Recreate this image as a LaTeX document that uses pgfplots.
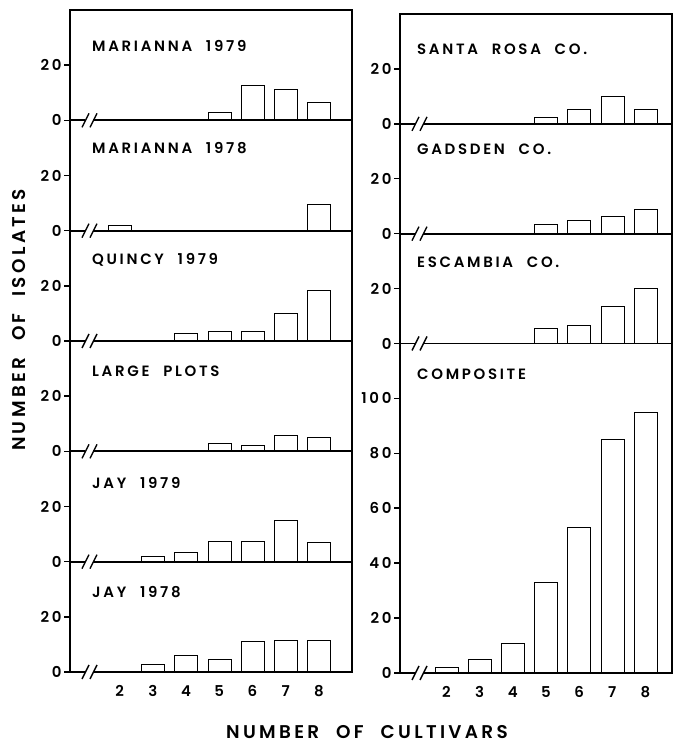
\documentclass[border=0pt]{standalone}
\usepackage{fontspec}
\setmainfont{Poppins}[LetterSpace=18, WordSpace=2.2, BoldFont={Poppins SemiBold}]
\usepackage{pgfplots}
\usepackage{pgfplotstable}
\pgfplotsset{compat=1.18}

% number of isolates per number of cultivars (2..8)
\pgfplotstableread{
n  m79   m78  q79   lp   j79  j78  sr   gad  esc
2  0     2    0     0    0    0    0    0    0
3  0     0    0     0    2    3    0    0    0
4  0     0    3     0    3.5  6    0    0    0
5  3     0    3.6   3    7.5  4.7  2.5  3.6  5.4
6  12.7  0    3.6   2.2  7.5  11   5.3  5    6.5
7  11.2  0    10    5.8  15   11.5 10   6.3  13.5
8  6.5   9.5  18.5  5    7    11.5 5.3  8.8  20.3
}\paneldata
\pgfplotstableread{
n  comp
2  2
3  5
4  11
5  33
6  53
7  85
8  95
}\compdata

\tikzset{ttl/.style={anchor=base west, inner sep=0pt, font=\bfseries\fontsize{15}{15}\selectfont}}
\pgfplotsset{
  common/.style={
    scale only axis, ybar, bar width=23bp, enlargelimits=false,
    ymin=0, ymax=40, ytick={0,20},
    xtick={2,...,8}, xticklabels={},
    axis line style={line width=1.7bp},
    cycle list={{draw=black, fill=white, line width=1.7bp}},
    ytick style={line width=1.5bp, black}, major tick length=6bp, tick align=outside,
    xtick style={draw=none}, ytick pos=left, xtick pos=bottom,
    tick label style={font=\bfseries\fontsize{15}{15}\selectfont},
    /pgf/number format/assume math mode=true,
    yticklabel style={xshift=1bp},
    xticklabel style={yshift=-4bp},
  },
  leftp/.style={common, width=282bp, height=110.33bp, xmin=0.5, xmax=9},
  rightp/.style={common, width=272bp, height=109.83bp, xmin=0.6, xmax=8.8},
}

\begin{document}
\begin{tikzpicture}
\useasboundingbox (0,0) rectangle (673bp,747bp);

% ---------------- left column ----------------
\begin{axis}[leftp, at={(70bp,737bp)}, anchor=north west]
\addplot table[x=n,y=m79]{\paneldata};
\node[ttl, xshift=22bp, yshift=-42bp] at (rel axis cs:0,1) {MARIANNA 1979};
\end{axis}
\begin{axis}[leftp, at={(70bp,626.67bp)}, anchor=north west]
\addplot table[x=n,y=m78]{\paneldata};
\node[ttl, xshift=22bp, yshift=-33bp] at (rel axis cs:0,1) {MARIANNA 1978};
\end{axis}
\begin{axis}[leftp, at={(70bp,516.33bp)}, anchor=north west]
\addplot table[x=n,y=q79]{\paneldata};
\node[ttl, xshift=22bp, yshift=-34bp] at (rel axis cs:0,1) {QUINCY 1979};
\end{axis}
\begin{axis}[leftp, at={(70bp,406bp)}, anchor=north west]
\addplot table[x=n,y=lp]{\paneldata};
\node[ttl, xshift=22bp, yshift=-36bp] at (rel axis cs:0,1) {LARGE PLOTS};
\end{axis}
\begin{axis}[leftp, at={(70bp,295.67bp)}, anchor=north west]
\addplot table[x=n,y=j79]{\paneldata};
\node[ttl, xshift=22bp, yshift=-37bp] at (rel axis cs:0,1) {JAY 1979};
\end{axis}
\begin{axis}[leftp, at={(70bp,185.33bp)}, anchor=north west, xticklabels={2,3,4,5,6,7,8}]
\addplot table[x=n,y=j78]{\paneldata};
\node[ttl, xshift=22bp, yshift=-36bp] at (rel axis cs:0,1) {JAY 1978};
\end{axis}

% ---------------- right column ----------------
\begin{axis}[rightp, at={(400bp,733bp)}, anchor=north west]
\addplot table[x=n,y=sr]{\paneldata};
\node[ttl, xshift=17bp, yshift=-41bp] at (rel axis cs:0,1) {SANTA ROSA CO.};
\end{axis}
\begin{axis}[rightp, at={(400bp,623.17bp)}, anchor=north west]
\addplot table[x=n,y=gad]{\paneldata};
\node[ttl, xshift=17bp, yshift=-31bp] at (rel axis cs:0,1) {GADSDEN CO.};
\end{axis}
\begin{axis}[rightp, at={(400bp,513.33bp)}, anchor=north west]
\addplot table[x=n,y=esc]{\paneldata};
\node[ttl, xshift=17bp, yshift=-34bp] at (rel axis cs:0,1) {ESCAMBIA CO.};
\end{axis}
\begin{axis}[rightp, height=329.5bp, ymax=120, ytick={0,20,...,100},
  at={(400bp,403.5bp)}, anchor=north west, xticklabels={2,3,4,5,6,7,8}]
\addplot table[x=n,y=comp]{\compdata};
\node[ttl, xshift=17bp, yshift=-36bp] at (rel axis cs:0,1) {COMPOSITE};
\end{axis}

% axis breaks on every zero line
\foreach \bx/\by in {70/626.67, 70/516.33, 70/406, 70/295.67, 70/185.33, 70/75,
                     400/623.17, 400/513.33, 400/403.5, 400/74}{
  \fill[white] (\bx bp+15bp,\by bp-2bp) rectangle ++(8bp,4bp);
  \draw[line width=1.4bp] (\bx bp+12bp,\by bp-7bp) -- ++(7bp,14bp);
  \draw[line width=1.4bp] (\bx bp+20bp,\by bp-7bp) -- ++(7bp,14bp);
}

% axis titles
\node[rotate=90, font=\bfseries\fontsize{18.5}{18.5}\selectfont] at (19bp,427bp) {NUMBER OF ISOLATES};
\node[font=\bfseries\fontsize{18.5}{18.5}\selectfont] at (367bp,15bp) {NUMBER OF CULTIVARS};
\end{tikzpicture}
\end{document}
